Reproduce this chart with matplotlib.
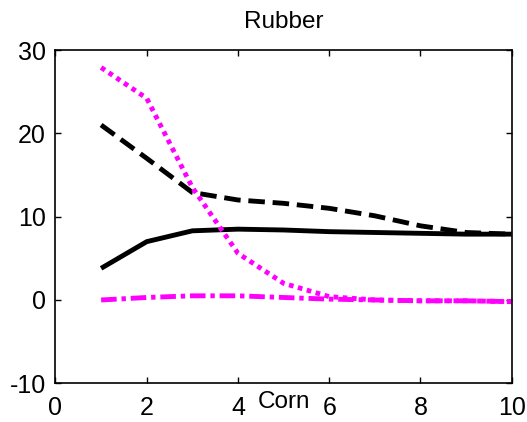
import matplotlib
matplotlib.use("Agg")
import matplotlib.pyplot as plt

plt.rcParams['font.family'] = ['Liberation Sans', 'DejaVu Sans']

horizon = [1, 2, 3, 4, 5, 6, 7, 8, 9, 10]
solid_black = [3.8, 7.0, 8.3, 8.5, 8.4, 8.2, 8.1, 8.0, 7.9, 7.9]
dashed_black = [21.0, 17.0, 12.9, 12.0, 11.6, 11.0, 10.1, 8.9, 8.1, 7.9]
dotted_magenta = [27.9, 24.2, 13.5, 5.6, 2.0, 0.4, 0.0, -0.1, -0.1, -0.2]
dashdot_magenta = [0.0, 0.3, 0.5, 0.5, 0.3, 0.1, 0.0, -0.1, -0.1, -0.2]

x_ticks = [0, 2, 4, 6, 8, 10]
y_ticks = [-10, 0, 10, 20, 30]

fig = plt.figure(figsize=(5.27, 4.22), dpi=100)
ax = fig.add_axes([0.1053, 0.0917, 0.8657, 0.7898])

lw = 3.5
ax.plot(horizon, solid_black, color='black', lw=lw, solid_capstyle='butt')
ax.plot(horizon, dashed_black, color='black', lw=lw, linestyle=(0, (3.4, 1.6)))
ax.plot(horizon, dotted_magenta, color='#ff00ff', lw=lw, linestyle=(0, (0.95, 0.95)))
ax.plot(horizon, dashdot_magenta, color='#ff00ff', lw=lw, linestyle=(0, (3.2, 1.0, 0.9, 1.0)))

ax.set_xlim(0, 10)
ax.set_ylim(-10, 30)
ax.set_xticks(x_ticks)
ax.set_yticks(y_ticks)
ax.set_xticklabels([str(t) for t in x_ticks])
ax.set_yticklabels([str(t) for t in y_ticks])
ax.tick_params(direction='in', length=4, width=1, top=True, right=True,
               labelsize=18)
ax.tick_params(axis='x', pad=9)
ax.tick_params(axis='y', pad=7)
for s in ax.spines.values():
    s.set_linewidth(1.2)

ax.set_title('Rubber', fontsize=17.5, pad=16)
ax.text(0.5, -0.075, 'Corn', transform=ax.transAxes, ha='center', va='baseline',
        fontsize=17.5)

fig.savefig('out.png', dpi=100)
